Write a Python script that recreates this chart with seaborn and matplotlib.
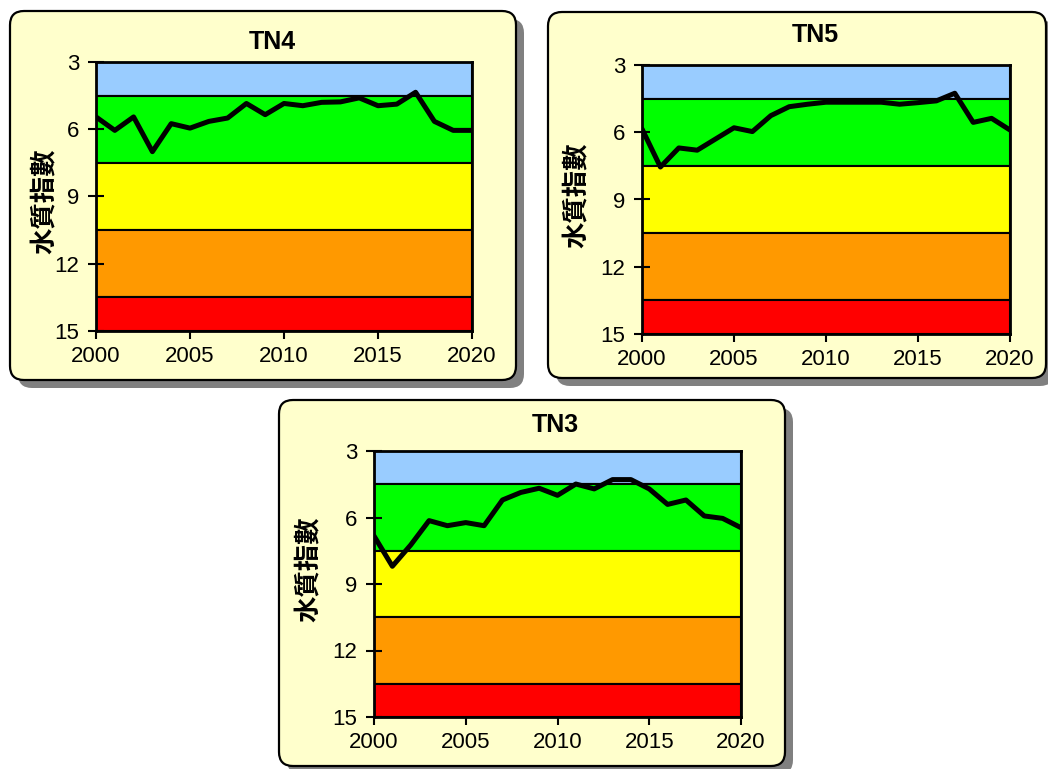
import numpy as np
import pandas as pd
import matplotlib
matplotlib.use("Agg")
import matplotlib.pyplot as plt
import matplotlib.transforms as mtransforms
from matplotlib.patches import FancyBboxPatch
import seaborn as sns

years = list(range(2000, 2021))
tn4 = [5.45, 6.05, 5.45, 7.0, 5.75, 5.95, 5.65, 5.5, 4.85, 5.35, 4.85, 4.95, 4.8, 4.78, 4.6,
       4.95, 4.88, 4.35, 5.65, 6.05, 6.05]
tn5 = [5.85, 7.55, 6.7, 6.8, 6.3, 5.8, 5.97, 5.26, 4.86, 4.75, 4.66, 4.66, 4.66, 4.66, 4.75,
       4.68, 4.6, 4.26, 5.56, 5.38, 5.9]
tn3 = [6.83, 8.2, 7.24, 6.14, 6.37, 6.23, 6.37, 5.21, 4.87, 4.68, 5.0, 4.49, 4.71, 4.29, 4.29,
       4.71, 5.41, 5.21, 5.93, 6.04, 6.46]

band_edges = [3, 4.5, 7.5, 10.5, 13.5, 15]
band_colors = ["#99CCFF", "#00FF00", "#FFFF00", "#FF9900", "#FF0000"]
y_ticks = [3, 6, 9, 12, 15]
x_ticks = [2000, 2005, 2010, 2015, 2020]
ylabel = "水質指數"

sns.set_theme(style="white")
plt.rcParams["font.family"] = ["Liberation Sans", "DejaVu Sans"]
plt.rcParams["text.color"] = "black"

W, H = 1048, 769
fig = plt.figure(figsize=(W / 100, H / 100), dpi=100)
fig.patch.set_facecolor("white")
pix = mtransforms.Affine2D().scale(1 / W, 1 / H) + fig.transFigure


def box(x0, y0, x1, y1):
    sh = FancyBboxPatch((x0 + 8, H - y1 - 8), x1 - x0, y1 - y0,
                        boxstyle="round,pad=0,rounding_size=14",
                        transform=pix, facecolor="#808080", edgecolor="none", zorder=-11)
    fig.patches.append(sh)
    b = FancyBboxPatch((x0, H - y1), x1 - x0, y1 - y0,
                       boxstyle="round,pad=0,rounding_size=14",
                       transform=pix, facecolor="#FFFFCC", edgecolor="black",
                       linewidth=1.6, zorder=-10)
    fig.patches.append(b)


def panel(ax_px, vals, title, title_px, ylab_px):
    x0, y0, x1, y1 = ax_px
    ax = fig.add_axes([x0 / W, (H - y1) / H, (x1 - x0) / W, (y1 - y0) / H])
    for i, c in enumerate(band_colors):
        ax.axhspan(band_edges[i], band_edges[i + 1], facecolor=c, edgecolor="black",
                   linewidth=1.5, zorder=1)
    df = pd.DataFrame({"year": years, "value": vals})
    sns.lineplot(data=df, x="year", y="value", color="black", linewidth=3.6, ax=ax,
                 zorder=3)
    ax.set_axisbelow(False)
    ax.set_xlim(2000, 2020)
    ax.set_ylim(15, 3)
    ax.set_xticks(x_ticks)
    ax.set_yticks(y_ticks)
    ax.set_xticklabels([str(t) for t in x_ticks], fontsize=16)
    ax.set_yticklabels([str(t) for t in y_ticks], fontsize=16,
                       family=["Liberation Sans Narrow", "Liberation Sans", "DejaVu Sans"])
    ax.tick_params(axis="y", left=True, direction="inout", length=12, width=1.5, pad=6,
                   colors="black", labelcolor="black")
    ax.tick_params(axis="x", bottom=True, direction="out", length=6, width=1.5, pad=5,
                   colors="black", labelcolor="black")
    ax.set_xlabel("")
    ax.set_ylabel("")
    for s in ax.spines.values():
        s.set_visible(True)
        s.set_color("black")
        s.set_linewidth(2)
        s.set_zorder(4)
    fig.text(title_px[0] / W, (H - title_px[1]) / H, title, ha="center", va="center",
             fontsize=18, fontweight="bold", color="black")
    fig.text(ylab_px[0] / W, (H - ylab_px[1]) / H, ylabel, ha="center", va="center",
             rotation=90, fontsize=19, fontweight="bold", color="black",
             family=["Noto Sans CJK TC", "DejaVu Sans"])
    return ax


box(10, 11, 516, 380)
box(548, 12, 1046, 378)
box(279, 400, 785, 766)

panel((96, 62, 472, 331), tn4, "TN4", (272, 42), (45, 201))
panel((642, 65, 1010, 334), tn5, "TN5", (815, 35), (577, 195))
panel((374, 451, 741, 717), tn3, "TN3", (555, 425), (309, 569))

fig.savefig("out.png", dpi=100, facecolor="white")
